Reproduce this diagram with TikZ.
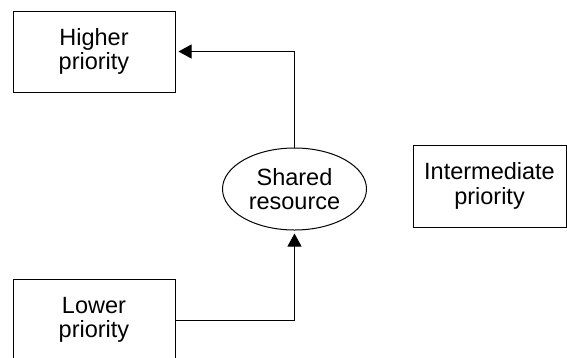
\documentclass[tikz,border=0pt]{standalone}
\usepackage{fontspec}
\setmainfont{Liberation Sans}
\usetikzlibrary{shapes.geometric,arrows.meta}
\begin{document}
\begin{tikzpicture}[x=1pt,y=-1pt,
  every node/.style={font=\fontsize{23.5}{24.5}\selectfont, align=center, inner sep=0pt},
  taskbox/.style={draw, line width=1pt, rectangle, minimum width=162pt, minimum height=81pt},
  resnode/.style={draw, line width=1pt, ellipse, minimum width=144pt, minimum height=82pt},
  link/.style={line width=1pt, -{Triangle[length=13pt,width=14pt]}, shorten >=3pt}]
\useasboundingbox (0,0) rectangle (567,357);
\node[taskbox] (high) at (94,51.5) {Higher\\priority};
\node[taskbox, minimum width=153pt, minimum height=82pt] (mid) at (489.5,186) {Intermediate\\priority};
\node[resnode] (res) at (294.5,189) {Shared\\resource};
\node[taskbox] (low) at (94,320) {Lower\\priority};
\draw[link] (res.north) |- (high.east);
\draw[link] (low.east) -| (res.south);
\end{tikzpicture}
\end{document}
